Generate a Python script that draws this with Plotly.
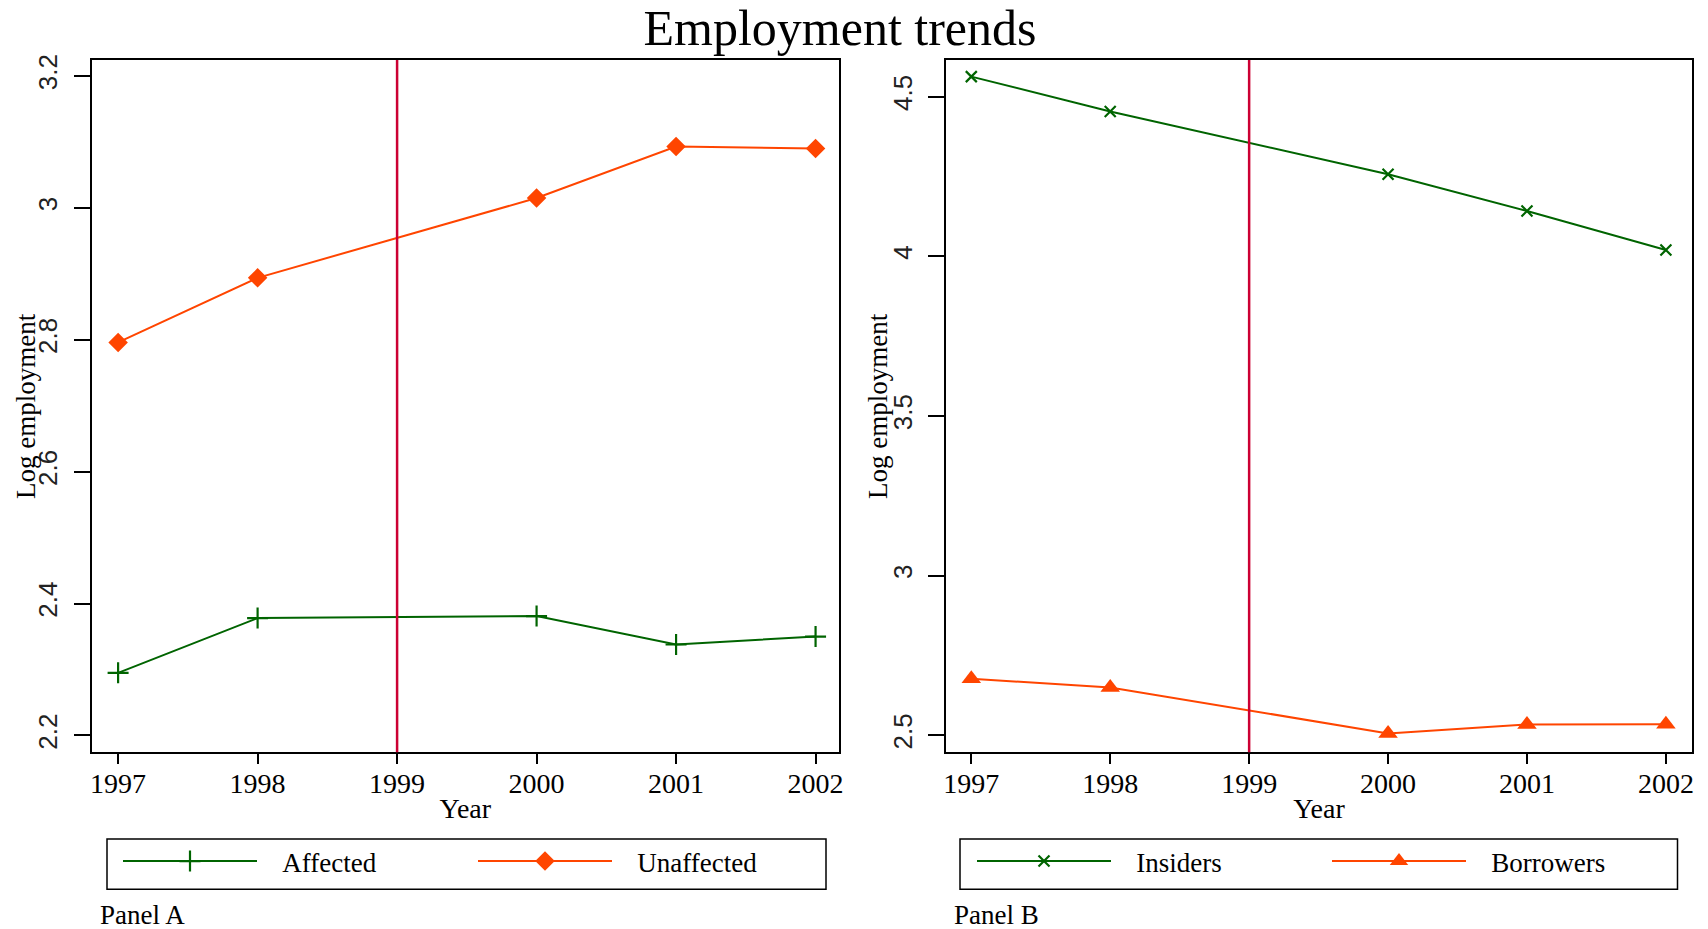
import plotly.graph_objects as go

# ---------------- data ----------------
years = [1997, 1998, 2000, 2001, 2002]
affected = [2.295, 2.378, 2.381, 2.338, 2.350]
unaffected = [2.796, 2.894, 3.015, 3.093, 3.090]
insiders = [4.563, 4.454, 4.257, 4.142, 4.020]
borrowers = [2.677, 2.650, 2.506, 2.534, 2.535]
event_year = 1999

x_ticks = [1997, 1998, 1999, 2000, 2001, 2002]
ya_ticks = [2.2, 2.4, 2.6, 2.8, 3.0, 3.2]
ya_labels = ["2.2", "2.4", "2.6", "2.8", "3", "3.2"]
yb_ticks = [2.5, 3.0, 3.5, 4.0, 4.5]
yb_labels = ["2.5", "3", "3.5", "4", "4.5"]

# ---------------- style ----------------
W, H = 1708, 929
GREEN = "#006400"
ORANGE = "#FF4500"
VLINE = "#CC0033"
SERIF = "Liberation Serif, Times New Roman, serif"
SANS = "Liberation Sans, Arial, sans-serif"
PAD = "\u00a0\u00a0\u00a0"


def px(v):
    return v / W


def py(v):
    return 1 - v / H


fig = go.Figure()

fig.add_trace(go.Scatter(
    x=years, y=affected, mode="lines+markers", name=PAD + "Affected",
    line=dict(color=GREEN, width=2),
    marker=dict(symbol="cross-thin", size=15, color=GREEN, line=dict(color=GREEN, width=2.2)),
    xaxis="x", yaxis="y", legend="legend"))
fig.add_trace(go.Scatter(
    x=years, y=unaffected, mode="lines+markers", name=PAD + "Unaffected",
    line=dict(color=ORANGE, width=2),
    marker=dict(symbol="diamond", size=15, color=ORANGE),
    xaxis="x", yaxis="y", legend="legend"))
fig.add_trace(go.Scatter(
    x=years, y=insiders, mode="lines+markers", name=PAD + "Insiders",
    line=dict(color=GREEN, width=2),
    marker=dict(symbol="x-thin", size=11, color=GREEN, line=dict(color=GREEN, width=2.2)),
    xaxis="x2", yaxis="y2", legend="legend2"))
fig.add_trace(go.Scatter(
    x=years, y=borrowers, mode="lines+markers", name=PAD + "Borrowers",
    line=dict(color=ORANGE, width=2),
    marker=dict(symbol="triangle-up", size=17, color=ORANGE),
    xaxis="x2", yaxis="y2", legend="legend2"))

# vertical reference lines
for xr, yr in (("x", "y domain"), ("x2", "y2 domain")):
    fig.add_shape(type="line", xref=xr, yref=yr, x0=event_year, x1=event_year,
                  y0=0, y1=1, line=dict(color=VLINE, width=2.5))

common_x = dict(
    tickvals=x_ticks, ticks="outside", ticklen=10, tickwidth=1.5, tickcolor="black",
    showline=True, linecolor="black", linewidth=2, mirror=True, automargin=False,
    showgrid=False, zeroline=False, ticklabelstandoff=-5,
    tickfont=dict(family=SERIF, size=28, color="black"),
    title=dict(text="Year", font=dict(family=SERIF, size=28, color="black"), standoff=0),
)
common_y = dict(
    ticks="outside", ticklen=16, tickwidth=1.5, tickcolor="black", tickangle=-90,
    showline=True, linecolor="black", linewidth=2, mirror=True, automargin=False,
    showgrid=False, zeroline=False, ticklabelstandoff=6,
    tickfont=dict(family=SANS, size=26, color="#222"),
)

ydom = [py(752.3), py(60)]

fig.update_layout(
    width=W, height=H, autosize=False,
    margin=dict(l=0, r=0, t=0, b=0, autoexpand=False),
    paper_bgcolor="white", plot_bgcolor="white",
    showlegend=True,
    title=dict(text="Employment trends", x=px(840), xanchor="center",
               y=py(27), yanchor="middle", yref="container", automargin=False,
               font=dict(family=SERIF, size=50, color="black")),
    xaxis=dict(domain=[px(91.6), px(839)], range=[1996.81, 2002.168], anchor="y", **common_x),
    yaxis=dict(domain=ydom, range=[2.1745, 3.2243], anchor="x",
               tickvals=ya_ticks, ticktext=ya_labels, **common_y),
    xaxis2=dict(domain=[px(946.3), px(1691.6)], range=[1996.82, 2002.185], anchor="y2", **common_x),
    yaxis2=dict(domain=ydom, range=[2.4468, 4.615], anchor="x2",
                tickvals=yb_ticks, ticktext=yb_labels, **common_y),
    legend=dict(orientation="h", x=px(118), xanchor="left", y=py(861.5), yanchor="middle",
                itemwidth=134, entrywidth=206, entrywidthmode="pixels",
                font=dict(family=SERIF, size=27, color="black"),
                bgcolor="rgba(0,0,0,0)", borderwidth=0),
    legend2=dict(orientation="h", x=px(972), xanchor="left", y=py(861.5), yanchor="middle",
                 itemwidth=134, entrywidth=206, entrywidthmode="pixels",
                 font=dict(family=SERIF, size=27, color="black"),
                 bgcolor="rgba(0,0,0,0)", borderwidth=0),
)

# y-axis titles
for xc in (26, 878):
    fig.add_annotation(text="Log employment", xref="paper", yref="paper",
                       x=px(xc), y=py(406), xanchor="center", yanchor="middle",
                       textangle=-90, showarrow=False,
                       font=dict(family=SERIF, size=27, color="black"))

# legend frames
for x0, x1 in ((107, 826), (960, 1677.5)):
    fig.add_shape(type="rect", xref="paper", yref="paper",
                  x0=px(x0), x1=px(x1), y0=py(889.3), y1=py(839),
                  line=dict(color="black", width=1.5), fillcolor="rgba(0,0,0,0)", layer="below")

fig.add_annotation(text="Panel A", xref="paper", yref="paper", x=px(98), y=py(915),
                   xanchor="left", yanchor="middle", showarrow=False,
                   font=dict(family=SERIF, size=27, color="black"))
fig.add_annotation(text="Panel B", xref="paper", yref="paper", x=px(952), y=py(915),
                   xanchor="left", yanchor="middle", showarrow=False,
                   font=dict(family=SERIF, size=27, color="black"))

fig.write_html("out.html")
